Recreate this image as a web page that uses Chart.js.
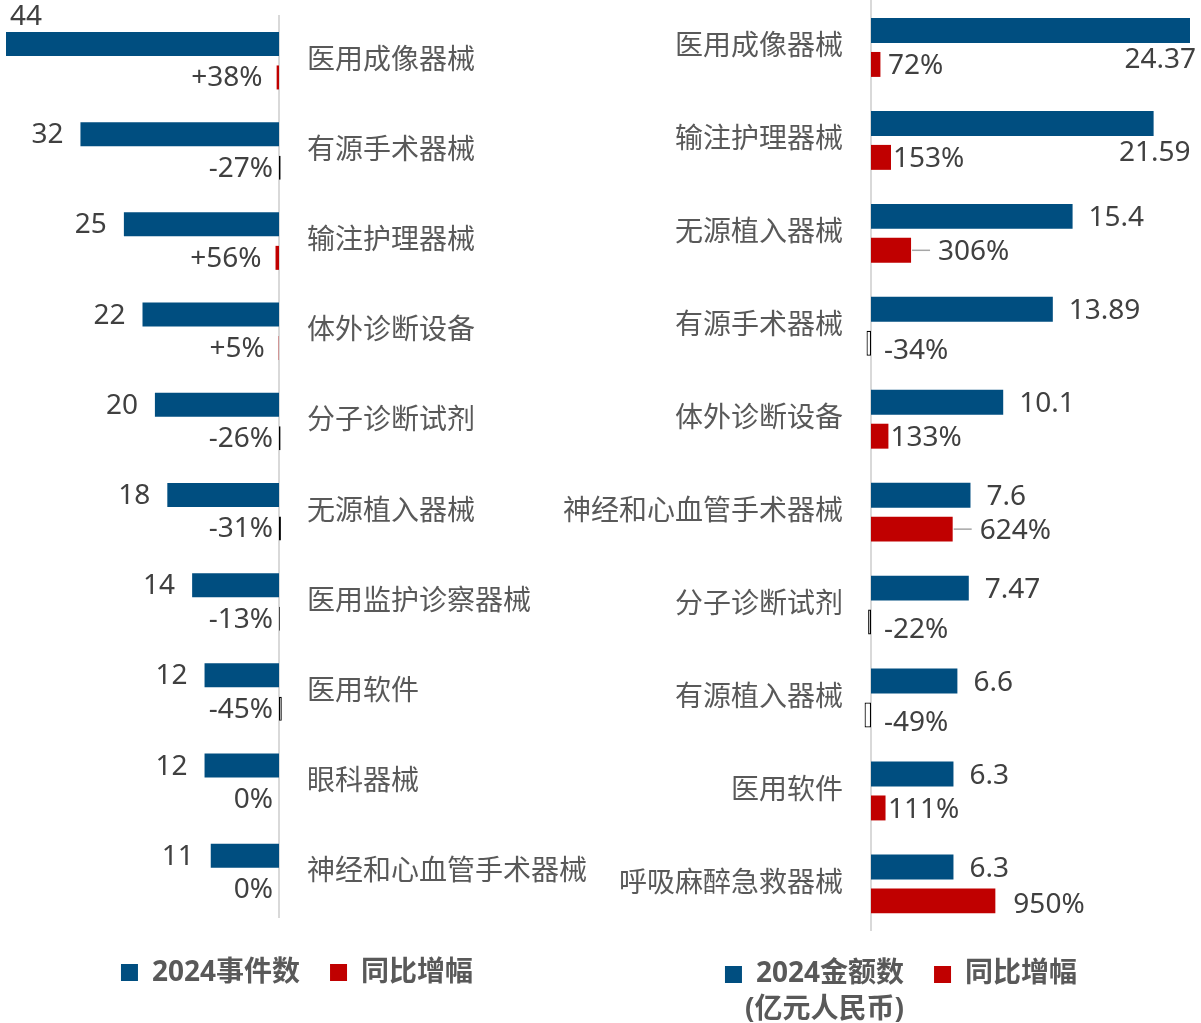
<!DOCTYPE html>
<html><head><meta charset="utf-8">
<script src="https://cdn.jsdelivr.net/npm/chart.js@4.4.1/dist/chart.umd.min.js"></script>
<style>
html,body{margin:0;padding:0;background:#fff;overflow:hidden;}
#wrap{position:relative;width:1201px;height:1023px;overflow:hidden;background:#fff;}
#c1{position:absolute;left:0;top:0;}
#c2{position:absolute;left:550px;top:0;}
#unit{position:absolute;left:745px;top:990px;font:bold 28px "Noto Sans","Noto Sans CJK SC",sans-serif;color:#595959;line-height:34px;white-space:nowrap;}
</style></head>
<body><div id="wrap">
<canvas id="c1" width="600" height="1023"></canvas>
<canvas id="c2" width="702" height="1023"></canvas>
<div id="unit">(亿元人民币)</div>
</div>
<script>
// ---- data ----
const leftCategories = ['医用成像器械','有源手术器械','输注护理器械','体外诊断设备','分子诊断试剂','无源植入器械','医用监护诊察器械','医用软件','眼科器械','神经和心血管手术器械'];
const leftCounts = [44, 32, 25, 22, 20, 18, 14, 12, 12, 11];
const leftGrowth = [0.38, -0.27, 0.56, 0.05, -0.26, -0.31, -0.13, -0.45, 0, 0];

const rightCategories = ['医用成像器械','输注护理器械','无源植入器械','有源手术器械','体外诊断设备','神经和心血管手术器械','分子诊断试剂','有源植入器械','医用软件','呼吸麻醉急救器械'];
const rightAmounts = [24.37, 21.59, 15.4, 13.89, 10.1, 7.6, 7.47, 6.6, 6.3, 6.3];
const rightGrowth = [0.72, 1.53, 3.06, -0.34, 1.33, 6.24, -0.22, -0.49, 1.11, 9.50];

const leftSeriesNames = ['2024事件数', '同比增幅'];
const rightSeriesNames = ['2024金额数', '同比增幅'];

// ---- styles ----
const BLUE = '#004E80', RED = '#C00000', AXIS = '#D9D9D9', TXT = '#404040', CAT = '#595959';
const FONT = '"Noto Sans", "Noto Sans CJK SC", sans-serif';

function labelPlugin(side) {
  return {
    id: 'valueLabels_' + side,
    afterDatasetsDraw(chart) {
      const ctx = chart.ctx;
      const W = chart.chartArea.right + 11;
      ctx.save();
      ctx.font = '28px ' + FONT;
      ctx.fillStyle = TXT;
      ctx.textBaseline = 'middle';
      const base = chart.data.datasets[0].data;
      chart.data.datasets.forEach((ds, di) => {
        const meta = chart.getDatasetMeta(di);
        meta.data.forEach((el, i) => {
          const v = ds.data[i];
          if (di === 0) {
            const t = String(v);
            const w = ctx.measureText(t).width;
            if (side === 'left') {
              const x = el.x - 17;
              if (x - w < 0) { ctx.textAlign = 'left'; ctx.fillText(t, el.x + 4, el.y - 27); }
              else { ctx.textAlign = 'right'; ctx.fillText(t, x, el.y + 1); }
            } else {
              const x = el.x + 16;
              if (x + w > W - 4) { ctx.textAlign = 'right'; ctx.fillText(t, Math.min(el.x + 37, W - 5), el.y + 30); }
              else { ctx.textAlign = 'left'; ctx.fillText(t, x, el.y + 2); }
            }
          } else {
            const pct = Math.round(v * 100);
            if (side === 'left') {
              const t = (pct > 0 ? '+' : '') + pct + '%';
              ctx.textAlign = 'right';
              ctx.fillText(t, v > 0 ? el.x - 14 : el.base - 6, el.y + 1);
            } else {
              const t = pct + '%';
              ctx.textAlign = 'left';
              if (v < 0) {
                ctx.fillText(t, el.base + 13, el.y + 8);
              } else if (v >= 3 && v < base[i]) {
                ctx.save();
                ctx.strokeStyle = '#A6A6A6';
                ctx.lineWidth = 1.5;
                ctx.beginPath();
                ctx.moveTo(el.x + 1, el.y);
                ctx.lineTo(el.x + 19, el.y);
                ctx.stroke();
                ctx.restore();
                ctx.fillText(t, el.x + 27, el.y + 2);
              } else if (v >= 3) {
                ctx.fillText(t, el.x + 18, el.y + 4);
              } else {
                ctx.fillText(t, Math.max(el.x + 2, el.base + 17), el.y + 2);
              }
            }
          }
        });
      });
      ctx.restore();
    }
  };
}

function growthDataset(label, data, cp, bp) {
  return {
    label, data,
    backgroundColor: c => (c.raw < 0 ? '#FFFFFF' : RED),
    borderColor: c => (c.raw < 0 ? '#000000' : RED),
    borderWidth: c => (c.raw < 0 ? 1.2 : 0),
    borderSkipped: false,
    clip: false,
    categoryPercentage: cp, barPercentage: bp
  };
}

function legendOpts() {
  return {
    position: 'bottom',
    labels: { boxWidth: 17, boxHeight: 17, padding: 30, color: CAT, font: { family: FONT, size: 28, weight: 'bold' } }
  };
}

function fixAxis(width) {
  return s => { s.width = width; s.paddingTop = 0; s.paddingBottom = 0; };
}

// ---- left chart ----
new Chart(document.getElementById('c1'), {
  type: 'bar',
  data: {
    labels: leftCategories,
    datasets: [
      { label: leftSeriesNames[0], data: leftCounts, backgroundColor: BLUE, borderWidth: 0, categoryPercentage: 0.743, barPercentage: 0.716 },
      growthDataset(leftSeriesNames[1], leftGrowth, 0.743, 0.716)
    ]
  },
  options: {
    indexAxis: 'y', responsive: false, animation: false, devicePixelRatio: 1,
    layout: { padding: { left: 6, top: 15.6, right: 12, bottom: 26.4 } },
    scales: {
      x: { reverse: true, min: 0, max: Math.max(...leftCounts),
           ticks: { display: false }, grid: { display: false }, border: { display: false },
           afterFit: s => { s.height = 11; s.paddingLeft = 0; s.paddingRight = 0; } },
      y: { position: 'right', grid: { display: false, drawTicks: false },
           border: { display: true, color: AXIS, width: 2 },
           ticks: { padding: 28, color: CAT, autoSkip: false, font: { family: FONT, size: 28 } },
           afterFit: fixAxis(309) }
    },
    plugins: { legend: legendOpts(), tooltip: { enabled: false } }
  },
  plugins: [labelPlugin('left')]
});

// ---- right chart ----
new Chart(document.getElementById('c2'), {
  type: 'bar',
  data: {
    labels: rightCategories,
    datasets: [
      { label: rightSeriesNames[0], data: rightAmounts, backgroundColor: BLUE, borderWidth: 0, categoryPercentage: 0.73, barPercentage: 0.735 },
      growthDataset(rightSeriesNames[1], rightGrowth, 0.73, 0.735)
    ]
  },
  options: {
    indexAxis: 'y', responsive: false, animation: false, devicePixelRatio: 1,
    layout: { padding: { left: 0, top: 1, right: 0, bottom: 24.6 } },
    scales: {
      x: { display: false, min: 0, max: Math.max(...rightAmounts) },
      y: { position: 'left', grid: { display: false, drawTicks: false },
           border: { display: true, color: AXIS, width: 2 },
           ticks: { padding: 28, color: CAT, autoSkip: false, font: { family: FONT, size: 28 } },
           afterFit: fixAxis(321) },
      // empty spacer axis on the right so the bottom legend sits where the original has it
      yPad: { type: 'category', position: 'right', labels: rightCategories,
           ticks: { display: false }, grid: { display: false }, border: { display: false },
           afterFit: fixAxis(62) }
    },
    plugins: { legend: legendOpts(), tooltip: { enabled: false } }
  },
  plugins: [labelPlugin('right')]
});
</script>
</body></html>
